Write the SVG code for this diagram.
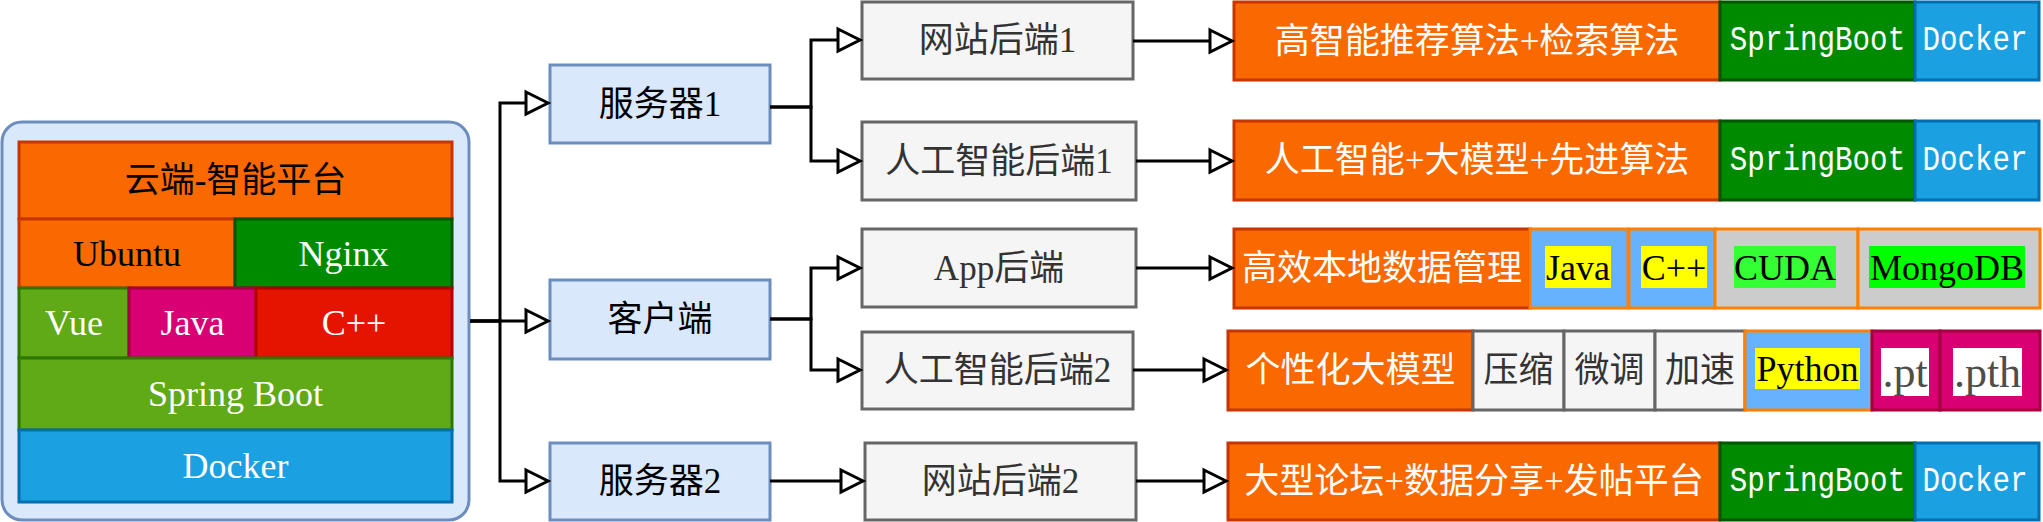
<svg xmlns="http://www.w3.org/2000/svg" width="2043" height="522" viewBox="0 0 2043 522">
<style>
rect{stroke-width:3}
.blue{fill:#dae8fc;stroke:#6c8ebf}
.gray{fill:#f5f5f5;stroke:#666666}
.orange{fill:#fa6800;stroke:#C73500}
.green{fill:#008a00;stroke:#005700}
.docker{fill:#1ba1e2;stroke:#006EAF}
.lime{fill:#60a917;stroke:#2D7600}
.pink{fill:#d80073;stroke:#A50040}
.red{fill:#e51400;stroke:#B20000}
.cellb{fill:#66B2FF;stroke:#FF8000}
.cellg{fill:#CCCCCC;stroke:#FF8000}
.hl{stroke:none}
text{text-anchor:middle;dominant-baseline:central;font-family:"Liberation Serif","Noto Sans CJK SC",serif;font-size:35px}
.lat{font-size:36px}
.big{font-size:44px}
.mono{font-family:"Liberation Mono","Noto Sans CJK SC",monospace;font-size:35px;fill:#fff}
.w{fill:#fff}
.k{fill:#000}
.g{fill:#333333}
.dg{fill:#4d4d4d}
.conn path{fill:none;stroke:#000;stroke-width:3;marker-end:url(#arr)}
</style>
<defs>
<marker id="arr" markerUnits="userSpaceOnUse" markerWidth="30" markerHeight="30" viewBox="-3 -15 30 30" refX="22" refY="0" orient="auto" overflow="visible">
<path d="M0,-11 L22,0 L0,11 Z" fill="#fff" stroke="#000" stroke-width="3"/>
</marker>
</defs>

<g id="cloud-platform">
<rect x="2" y="122" width="467" height="398" rx="20" class="blue"/>
<rect x="19" y="142" width="433" height="77" class="orange"/>
<text x="235.5" y="180.5" class="k">云端-智能平台</text>
<rect x="19" y="219" width="216" height="69" class="orange"/>
<text x="127" y="253.5" class="lat k">Ubuntu</text>
<rect x="235" y="219" width="217" height="69" class="green"/>
<text x="343.5" y="253.5" class="lat w">Nginx</text>
<rect x="19" y="288" width="110" height="70" class="lime"/>
<text x="74" y="323" class="lat w">Vue</text>
<rect x="129" y="288" width="127" height="70" class="pink"/>
<text x="192.5" y="323" class="lat w">Java</text>
<rect x="256" y="288" width="196" height="70" class="red"/>
<text x="354" y="323" class="lat w">C++</text>
<rect x="19" y="358" width="433" height="72" class="lime"/>
<text x="235.5" y="394" class="lat w">Spring Boot</text>
<rect x="19" y="430" width="433" height="72" class="docker"/>
<text x="235.5" y="466" class="lat w">Docker</text>
</g>

<g id="server1"><rect x="550" y="65" width="220" height="78" class="blue"/><text x="660" y="104" class="k">服务器1</text></g>
<g id="client"><rect x="550" y="280" width="220" height="79" class="blue"/><text x="660" y="319.5" class="k">客户端</text></g>
<g id="server2"><rect x="550" y="443" width="220" height="77" class="blue"/><text x="660" y="481.5" class="k">服务器2</text></g>

<g id="web-backend1"><rect x="862" y="2" width="271" height="77" class="gray"/><text x="997.5" y="40.5" class="g">网站后端1</text></g>
<g id="ai-backend1"><rect x="862" y="122" width="274" height="78" class="gray"/><text x="999" y="161" class="g">人工智能后端1</text></g>
<g id="app-backend"><rect x="862" y="229" width="274" height="78" class="gray"/><text x="999" y="268" class="g">App后端</text></g>
<g id="ai-backend2"><rect x="862" y="332" width="271" height="77" class="gray"/><text x="997.5" y="370.5" class="g">人工智能后端2</text></g>
<g id="web-backend2"><rect x="865" y="443" width="271" height="77" class="gray"/><text x="1000.5" y="481.5" class="g">网站后端2</text></g>

<g id="row1">
<rect x="1234" y="2" width="486" height="78" class="orange"/>
<text x="1477" y="41" class="w">高智能推荐算法+检索算法</text>
<rect x="1720" y="2" width="195" height="78" class="green"/>
<text transform="translate(1817.5 41) scale(0.835 1)" class="mono">SpringBoot</text>
<rect x="1915" y="2" width="124" height="78" class="docker"/>
<text transform="translate(1975 41) scale(0.835 1)" class="mono">Docker</text>
</g>

<g id="row2">
<rect x="1234" y="121" width="486" height="79" class="orange"/>
<text x="1477" y="160.5" class="w">人工智能+大模型+先进算法</text>
<rect x="1720" y="121" width="195" height="79" class="green"/>
<text transform="translate(1817.5 160.5) scale(0.835 1)" class="mono">SpringBoot</text>
<rect x="1915" y="121" width="124" height="79" class="docker"/>
<text transform="translate(1975 160.5) scale(0.835 1)" class="mono">Docker</text>
</g>

<g id="row3">
<rect x="1234" y="229" width="296" height="79" class="orange"/>
<text x="1382" y="268.5" class="w">高效本地数据管理</text>
<rect x="1530" y="229" width="98" height="79" class="cellb"/>
<rect x="1545" y="246" width="66" height="42" class="hl" fill="#FFFF00"/>
<text x="1578" y="267.5" class="lat k">Java</text>
<rect x="1629" y="229" width="86" height="79" class="cellb"/>
<rect x="1641" y="246" width="66" height="42" class="hl" fill="#FFFF00"/>
<text x="1674" y="267.5" class="lat k">C++</text>
<rect x="1715" y="229" width="143" height="79" class="cellg"/>
<rect x="1734" y="246" width="102" height="42" class="hl" fill="#33FF33"/>
<text x="1785" y="267.5" class="lat k">CUDA</text>
<rect x="1858" y="229" width="182" height="79" class="cellg"/>
<rect x="1869" y="246" width="156" height="42" class="hl" fill="#00FF00"/>
<text x="1947" y="267.5" class="lat k">MongoDB</text>
</g>

<g id="row4">
<rect x="1228" y="331" width="245" height="79" class="orange"/>
<text x="1350.5" y="370.5" class="w">个性化大模型</text>
<rect x="1473" y="331" width="91" height="79" class="gray"/>
<text x="1518.5" y="370.5" class="g">压缩</text>
<rect x="1564" y="331" width="91" height="79" class="gray"/>
<text x="1609.5" y="370.5" class="g">微调</text>
<rect x="1655" y="331" width="90" height="79" class="gray"/>
<text x="1700" y="370.5" class="g">加速</text>
<rect x="1745" y="331" width="127" height="79" class="cellb"/>
<rect x="1755" y="348" width="105" height="41" class="hl" fill="#FFFF00"/>
<text x="1807.5" y="368.5" class="lat k">Python</text>
<rect x="1872" y="331" width="68" height="79" class="pink"/>
<rect x="1881" y="348" width="48" height="48" class="hl" fill="#FFFFFF"/>
<text x="1905" y="372" class="big dg">.pt</text>
<rect x="1940" y="331" width="100" height="79" class="pink"/>
<rect x="1953" y="348" width="69" height="48" class="hl" fill="#FFFFFF"/>
<text x="1987.5" y="372" class="big dg">.pth</text>
</g>

<g id="row5">
<rect x="1228" y="443" width="492" height="77" class="orange"/>
<text x="1474" y="481.5" class="w">大型论坛+数据分享+发帖平台</text>
<rect x="1720" y="443" width="195" height="77" class="green"/>
<text transform="translate(1817.5 481.5) scale(0.835 1)" class="mono">SpringBoot</text>
<rect x="1915" y="443" width="124" height="77" class="docker"/>
<text transform="translate(1975 481.5) scale(0.835 1)" class="mono">Docker</text>
</g>

<g id="connectors" class="conn">
<path d="M470,321 H500 V103 H548"/>
<path d="M470,321 H548"/>
<path d="M470,321 H500 V481 H548"/>
<path d="M770,107 H811 V40 H860"/>
<path d="M770,107 H811 V161 H860"/>
<path d="M770,319 H811 V268 H860"/>
<path d="M770,319 H811 V370 H860"/>
<path d="M770,481 H863"/>
<path d="M1133,41 H1232"/>
<path d="M1136,161 H1232"/>
<path d="M1136,268 H1232"/>
<path d="M1133,370 H1226"/>
<path d="M1136,481 H1226"/>
</g>
</svg>
